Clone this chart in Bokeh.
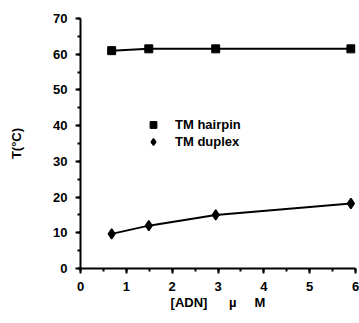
from bokeh.plotting import figure
from bokeh.models import Range1d, SingleIntervalTicker, Legend, LegendItem
from bokeh.embed import file_html
from bokeh.resources import INLINE

# data
conc = [0.68, 1.49, 2.95, 5.9]
tm_hairpin = [61.0, 61.5, 61.5, 61.5]
tm_duplex = [9.7, 12.0, 15.0, 18.2]

FONT = "Liberation Sans"

p = figure(width=359, height=323, output_backend="svg", toolbar_location=None,
           x_range=Range1d(0, 6), y_range=Range1d(0, 70),
           min_border_left=80, min_border_right=4, min_border_top=18, min_border_bottom=55)
p.outline_line_color = None
p.grid.visible = False
p.background_fill_color = "white"
p.border_fill_color = "white"

for ax in (p.xaxis[0], p.yaxis[0]):
    ax.axis_line_width = 2
    ax.axis_line_color = "black"
    ax.major_tick_line_width = 2
    ax.minor_tick_line_width = 2
    ax.major_tick_in = 0
    ax.major_tick_out = 5
    ax.minor_tick_in = 0
    ax.minor_tick_out = 3
    ax.major_label_text_font = FONT
    ax.major_label_text_font_style = "bold"
    ax.major_label_text_font_size = "13px"
    ax.major_label_text_color = "black"
    ax.axis_label_text_font = FONT
    ax.axis_label_text_font_style = "bold"
    ax.axis_label_text_font_size = "13px"
    ax.axis_label_text_color = "black"

p.xaxis[0].ticker = SingleIntervalTicker(interval=1, num_minor_ticks=2)
p.yaxis[0].ticker = SingleIntervalTicker(interval=10, num_minor_ticks=2)
p.xaxis[0].major_label_standoff = 8
p.yaxis[0].major_label_standoff = 8
p.xaxis[0].axis_label = "[ADN]\u00a0\u00a0\u00a0\u00a0\u00a0\u00a0µ\u00a0\u00a0\u00a0\u00a0\u00a0M"
p.yaxis[0].axis_label = "T(°C)"
p.xaxis[0].axis_label_standoff = 1
p.yaxis[0].axis_label_standoff = 26

p.line(conc, tm_hairpin, line_color="black", line_width=2)
p.line(conc, tm_duplex, line_color="black", line_width=2)
r_h = p.scatter(conc, tm_hairpin, marker="square", size=8, fill_color="black", line_color="black")
r_d = p.scatter(conc, tm_duplex, marker="diamond", size=10, line_width=1.5,
                fill_color="black", line_color="black")

legend = Legend(items=[LegendItem(label="TM hairpin", renderers=[r_h]),
                       LegendItem(label="TM duplex", renderers=[r_d])],
                location=(63, 118), padding=0, margin=0, spacing=-1,
                glyph_width=20, glyph_height=17, label_height=17, label_standoff=12,
                border_line_color=None, background_fill_alpha=0,
                label_text_font=FONT, label_text_font_style="bold",
                label_text_font_size="13px", label_text_color="black")
p.add_layout(legend, "center")

open("out.html", "w").write(file_html(p, INLINE))
